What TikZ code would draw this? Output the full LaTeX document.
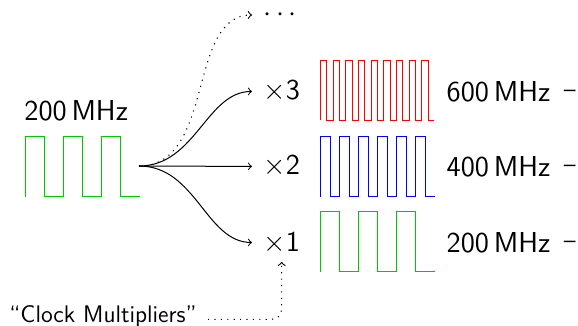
\documentclass[tikz,border=0pt]{standalone}
\usepackage{fontspec}
\definecolor{clkgreen}{RGB}{0,200,0}
\tikzset{
  lbl/.style={font=\sffamily\Large, inner sep=0pt},
  small/.style={font=\sffamily\large, inner sep=0pt},
  wave/.style={line width=0.5pt},
  conn/.style={->, line width=0.5pt},
  dotconn/.style={->, line width=0.55pt, dash pattern=on 0.55pt off 2.65pt},
}
\newcommand\clkwave[5]{% x0, ybot, half, N, colour
  \draw[wave,draw=#5] (#1,#2) foreach \i in {1,...,#4} { -- ++(0,-60) -- ++(#3,0) -- ++(0,60) -- ++(#3,0) };
}
\begin{document}
\begin{tikzpicture}[x=0.5pt,y=-0.5pt]
\useasboundingbox (0,0) rectangle (578,326);
% input clock
\clkwave{25.5}{196.5}{19}{3}{clkgreen}
\node[lbl, anchor=base west] (fin) at (24,120) {200\,MHz};
\coordinate (src) at (139,166);
% multipliers
\node[lbl, anchor=base west] (m3) at (263,100) {$\times$3};
\node[lbl, anchor=base west] (m2) at (263,175) {$\times$2};
\node[lbl, anchor=base west] (m1) at (263,251) {$\times$1};
\node[lbl, anchor=west] (more) at (263,15) {$\cdots$};
\draw[conn, shorten >=5.5pt] (src) to[out=0,in=180] (m3.west);
\draw[conn, shorten >=5.5pt] (src) -- (m2.west);
\draw[conn, shorten >=5.5pt] (src) to[out=0,in=180] (m1.west);
\draw[dotconn, shorten >=5.5pt] (src) to[out=0,in=180] (more.west);
% output clocks
\clkwave{320.5}{120.5}{6.33}{9}{red}
\clkwave{320.5}{196.5}{9.5}{6}{blue}
\clkwave{320.5}{271.5}{19}{3}{clkgreen}
\node[lbl, anchor=base west] (f3) at (446.3,101.7) {600\,MHz};
\node[lbl, anchor=base west] (f2) at (446.3,176.7) {400\,MHz};
\node[lbl, anchor=base west] (f1) at (446.3,252.7) {200\,MHz};
\node[small, anchor=base west] (d3) at (563.5,97.7) {--};
\node[small, anchor=base west] (d2) at (563.5,172.7) {--};
\node[small, anchor=base west] (d1) at (563.5,248.7) {--};
% annotation
\node[small, anchor=base west] (cm) at (9,322.7) {``Clock Multipliers''};
\draw[dotconn, rounded corners=5pt, shorten <=5.5pt, shorten >=4pt] ([yshift=1.7pt]cm.base east) -| (m1.south);
\end{tikzpicture}
\end{document}
